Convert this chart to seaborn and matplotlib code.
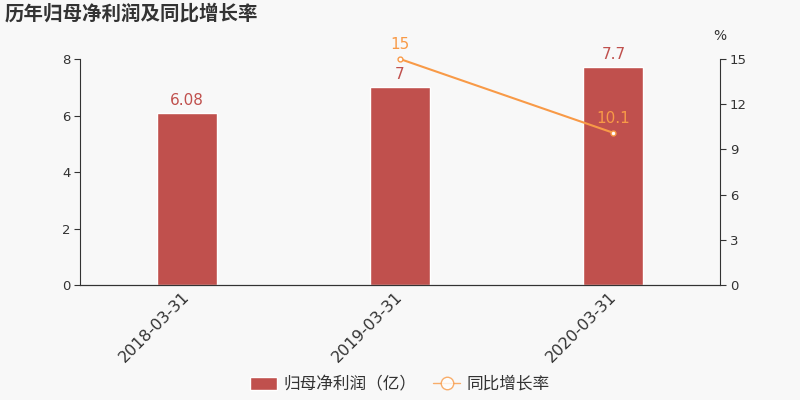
import pandas as pd
import numpy as np
import matplotlib.pyplot as plt
import matplotlib.transforms as mtrans
import seaborn as sns
from matplotlib.lines import Line2D

# 数据
dates = ['2018-03-31', '2019-03-31', '2020-03-31']
profit = [6.08, 7.0, 7.7]          # 归母净利润(亿)
growth = [np.nan, 15.0, 10.1]      # 同比增长率(%)
profit_labels = ['6.08', '7', '7.7']
growth_labels = ['', '15', '10.1']

bar_color = '#c0504d'
line_color = '#f89a47'
bg = '#f8f8f8'

sns.set_style('white')
plt.rcParams['font.family'] = ['DejaVu Sans', 'Noto Sans CJK SC']
plt.rcParams['axes.unicode_minus'] = False

df = pd.DataFrame({'date': dates, 'profit': profit, 'growth': growth})

fig = plt.figure(figsize=(8, 4), dpi=100, facecolor=bg)
ax = fig.add_axes([0.1, 0.2875, 0.8, 0.565])
ax.set_facecolor(bg)

sns.barplot(data=df, x='date', y='profit', color=bar_color, width=0.28,
            saturation=1, ax=ax, label='归母净利润（亿）')
h1, l1 = ax.get_legend_handles_labels()
if ax.get_legend() is not None:
    ax.get_legend().remove()
ax.set_ylim(0, 8)
ax.set_yticks([0, 2, 4, 6, 8])
ax.set_xlim(-0.5, 2.5)
ax.set_xlabel('')
ax.set_ylabel('')

for i, (v, t) in enumerate(zip(profit, profit_labels)):
    ax.annotate(t, (i, v), xytext=(0, 4), textcoords='offset points',
                ha='center', va='bottom', color=bar_color, fontsize=11)

ax2 = ax.twinx()
ax2.plot(dates, growth, color=line_color, lw=1.5, marker='o', ms=3.5,
         mfc='white', mec=line_color, mew=1, clip_on=False, zorder=5)
ax2.set_ylim(0, 15)
ax2.set_yticks([0, 3, 6, 9, 12, 15])
for i, (v, t) in enumerate(zip(growth, growth_labels)):
    if t:
        ax2.annotate(t, (i, v), xytext=(0, 5), textcoords='offset points',
                     ha='center', va='bottom', color=line_color, fontsize=11)

for a in (ax, ax2):
    a.spines['top'].set_visible(False)
    for s in ['left', 'right', 'bottom']:
        a.spines[s].set_color('#333333')
        a.spines[s].set_linewidth(0.8)
    a.tick_params(axis='y', length=4, width=0.8, color='#333333',
                  labelsize=9.5, labelcolor='#333333', pad=3)
ax.spines['right'].set_visible(False)
ax2.spines['left'].set_visible(False)

# x 轴刻度放在类别之间
ax.set_xticks(range(len(dates)))
ax.set_xticklabels(dates, rotation=45, ha='right', rotation_mode='anchor',
                   fontsize=11.5, color='#333333')
ax.tick_params(axis='x', which='major', length=0, pad=3)
shift = mtrans.ScaledTranslation(-5 / 100, 0, fig.dpi_scale_trans)
for lab in ax.get_xticklabels():
    lab.set_transform(lab.get_transform() + shift)
ax.set_xticks([-0.5, 0.5, 1.5, 2.5], minor=True)
ax.tick_params(axis='x', which='minor', length=5, width=0.8, color='#333333')

ax2.text(1.0, 1.07, '%', transform=ax2.transAxes, ha='center', va='bottom',
         fontsize=10, color='#333333')

fig.text(0.006, 0.965, '历年归母净利润及同比增长率', fontsize=14, fontweight='bold',
         color='#333333', ha='left', va='center')

h2 = [Line2D([0], [0], color=line_color, lw=1, marker='o', ms=9,
             mfc='white', mec=line_color, alpha=0.8)]
leg = fig.legend(h1 + h2, l1 + ['同比增长率'], loc='center',
                 bbox_to_anchor=(0.5, 0.04), ncol=2, frameon=False,
                 fontsize=12, handlelength=1.6, handleheight=0.8,
                 columnspacing=1.0, handletextpad=0.4)
for t in leg.get_texts():
    t.set_color('#333333')

fig.savefig('out.png', dpi=100, facecolor=bg)
